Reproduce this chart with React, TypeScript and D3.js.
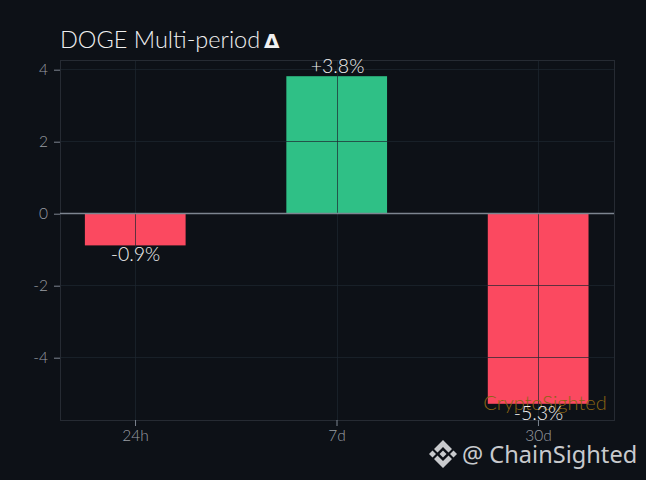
import React, { useEffect, useRef } from 'react';
import * as d3 from 'd3';

const periods = ['24h', '7d', '30d'];
const changes = [-0.9, 3.8, -5.3];
const changeLabels = ['-0.9%', '+3.8%', '-5.3%'];
const yTicks = [-4, -2, 0, 2, 4];

const width = 646;
const height = 480;
const margin = { top: 60, right: 32, bottom: 60, left: 60 };
const font = 'Lato, "Open Sans", sans-serif';

export default function App() {
  const svgRef = useRef<SVGSVGElement>(null);

  useEffect(() => {
    if (!svgRef.current) return;
    const svg = d3.select(svgRef.current);
    svg.selectAll('*').remove();

    const x = d3.scaleBand<string>()
      .domain(periods)
      .range([margin.left, width - margin.right])
      .paddingInner(0.5)
      .paddingOuter(0.125);
    const y = d3.scaleLinear()
      .domain([-5.75, 4.25])
      .range([height - margin.bottom, margin.top]);
    const centre = (d: string) => Math.floor((x(d) || 0) + x.bandwidth() / 2) + 0.5;

    svg.append('rect').attr('width', width).attr('height', height).attr('fill', '#0d1117');

    // Bars go under the grid, the lines show through them
    svg.append('g')
      .selectAll('rect')
      .data(changes)
      .enter()
      .append('rect')
      .attr('x', (_, i) => (x(periods[i]) || 0) - 0.3)
      .attr('width', x.bandwidth())
      .attr('y', d => y(Math.max(d, 0)))
      .attr('height', d => Math.abs(y(d) - y(0)))
      .attr('fill', d => (d >= 0 ? '#2fc086' : '#fb4960'));

    const gridColor = 'rgba(30, 38, 48, 0.7)';
    const grid = svg.append('g');
    grid.selectAll('line.h')
      .data(yTicks)
      .enter()
      .append('line')
      .attr('x1', margin.left)
      .attr('x2', width - margin.right)
      .attr('y1', d => y(d) + 0.5)
      .attr('y2', d => y(d) + 0.5)
      .attr('stroke', gridColor);
    grid.selectAll('line.v')
      .data(periods)
      .enter()
      .append('line')
      .attr('x1', centre)
      .attr('x2', centre)
      .attr('y1', margin.top)
      .attr('y2', height - margin.bottom)
      .attr('stroke', gridColor);

    // Plot frame
    svg.append('rect')
      .attr('x', margin.left + 0.5)
      .attr('y', margin.top + 0.5)
      .attr('width', width - margin.left - margin.right)
      .attr('height', height - margin.top - margin.bottom)
      .attr('fill', 'none')
      .attr('stroke', '#262b33');

    // Zero line
    svg.append('line')
      .attr('x1', margin.left)
      .attr('x2', width - margin.right)
      .attr('y1', y(0) + 0.5)
      .attr('y2', y(0) + 0.5)
      .attr('stroke', '#7d8590')
      .attr('stroke-width', 1.6);

    const yAxis = svg.append('g')
      .attr('transform', `translate(${margin.left}, 0.7)`)
      .call(d3.axisLeft(y).tickValues(yTicks).tickFormat(d => String(d)).tickSize(6).tickPadding(6));
    yAxis.select('.domain').remove();
    yAxis.selectAll('line').attr('stroke', '#7d8590');
    yAxis.selectAll('text')
      .style('font-family', font)
      .style('font-weight', '300')
      .style('font-size', '15.5px')
      .attr('fill', '#9a9ea4');

    const xAxis = svg.append('g')
      .attr('transform', `translate(0, ${height - margin.bottom})`)
      .call(d3.axisBottom(x).tickSize(6).tickPadding(4));
    xAxis.select('.domain').remove();
    xAxis.selectAll('line').attr('stroke', '#7d8590');
    xAxis.selectAll('text')
      .style('font-family', font)
      .style('font-weight', '300')
      .style('font-size', '15.5px')
      .attr('fill', '#9a9ea4');

    // Faint mark that sits under the value labels
    svg.append('text')
      .attr('x', 545)
      .attr('y', 410)
      .attr('text-anchor', 'middle')
      .style('font-family', font)
      .style('font-weight', '300')
      .style('font-size', '20px')
      .attr('fill', '#8a6414')
      .text('CryptoSighted');

    svg.append('g')
      .selectAll('text')
      .data(changes)
      .enter()
      .append('text')
      .attr('x', (_, i) => centre(periods[i]))
      .attr('y', d => (d >= 0 ? y(d) - 3 : y(d) + 16))
      .attr('text-anchor', 'middle')
      .style('font-family', font)
      .style('font-weight', '300')
      .style('font-size', '19.5px')
      .attr('fill', '#f2f2f2')
      .text((_, i) => changeLabels[i]);

    const title = svg.append('text')
      .attr('x', 60)
      .attr('y', 48)
      .style('font-family', font)
      .style('font-weight', '300')
      .style('font-size', '23.5px')
      .attr('fill', '#f0f0f0');
    title.append('tspan').text('DOGE Multi-period');
    title.append('tspan')
      .attr('x', 264)
      .style('font-family', '"DejaVu Sans", sans-serif')
      .style('font-weight', '700')
      .style('font-size', '20px')
      .text('Δ');

    // Watermark, Binance style logo and handle
    const logo = svg.append('g')
      .attr('transform', 'translate(443, 454)')
      .attr('fill', '#c8cacd');
    logo.append('path').attr('d', 'M0,-14 L9,-5 L5.5,-1.5 L0,-7 L-5.5,-1.5 L-9,-5 Z');
    logo.append('path').attr('d', 'M0,14 L9,5 L5.5,1.5 L0,7 L-5.5,1.5 L-9,5 Z');
    logo.append('path').attr('d', 'M-14,0 L-10.5,-3.5 L-7,0 L-10.5,3.5 Z');
    logo.append('path').attr('d', 'M14,0 L10.5,-3.5 L7,0 L10.5,3.5 Z');
    logo.append('path').attr('d', 'M0,-3.5 L3.5,0 L0,3.5 L-3.5,0 Z');

    svg.append('text')
      .attr('x', 462)
      .attr('y', 463)
      .style('font-family', '"Noto Sans", "Open Sans", sans-serif')
      .style('font-size', '23.6px')
      .attr('fill', '#c8cacd')
      .text('@ ChainSighted');
  }, []);

  return (
    <svg
      ref={svgRef}
      width={width}
      height={height}
      style={{ position: 'absolute', left: 0, top: 0, display: 'block' }}
    />
  );
}
